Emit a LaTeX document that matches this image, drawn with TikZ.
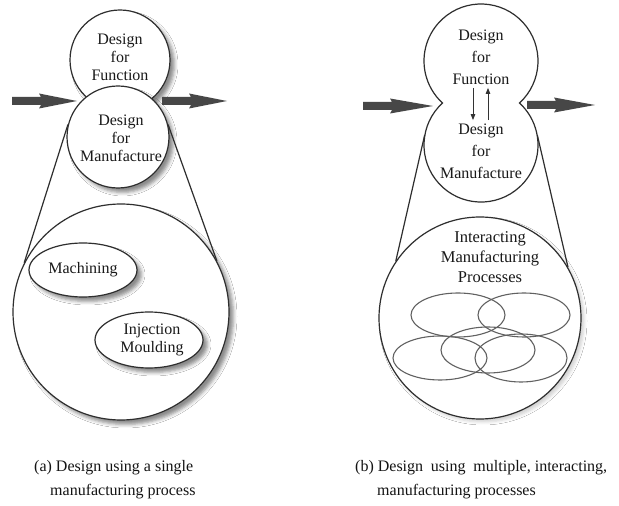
\documentclass[tikz,border=0pt]{standalone}
\usepackage{fontspec}
\setmainfont{Liberation Serif}
\usetikzlibrary{shapes.geometric,shadows.blur,arrows.meta}

\tikzset{
  ink/.style={draw=black!82, line width=1.2pt},
  outline/.style={ink, fill=white},
  softshadow/.style={blur shadow={shadow xshift=4.5pt, shadow yshift=-4.5pt,
      shadow blur radius=3.5pt, shadow opacity=45}},
  faintshadow/.style={blur shadow={shadow xshift=3pt, shadow yshift=-3pt,
      shadow blur radius=3pt, shadow opacity=18}},
  disc/.style={circle, inner sep=0pt, minimum size=#1},
  oval/.style 2 args={ellipse, inner sep=0pt, minimum width=#1, minimum height=#2},
  txt/.style={font=\fontsize{16}{18}\selectfont, align=center, text=black!90},
  txtwide/.style={font=\fontsize{16}{22}\selectfont, align=center, text=black!90},
  caption/.style={font=\fontsize{16}{18}\selectfont, anchor=base west, inner sep=0pt, text=black!92},
  ring/.style={ink, draw=black!62, line width=1.1pt},
  linkline/.style={ink},
  smallarrow/.style={draw=black!80, line width=0.9pt, -{Triangle[length=6pt,width=4.5pt]}},
  pics/blockarrow/.style={code={
      \fill[black!72] (0,-4) -- (29,-4) -- (27,-7.5) -- (#1,0) -- (27,7.5) -- (29,4) -- (0,4) -- cycle;}}
}

\begin{document}
\begin{tikzpicture}[x=1pt,y=1pt]
\useasboundingbox[fill=white] (0,0) rectangle (619,506);

% ---------- (a) single manufacturing process ----------
\node[disc=100pt, outline, softshadow] (fnA) at (120,446) {};
\node[disc=102pt, outline, softshadow] (mfA) at (118,369) {};
\node[txt] (tfnA) at (120,449) {Design\\for\\Function};
\node[txt] (tmfA) at (121,368) {Design\\for\\Manufacture};

\pic at (12,405) {blockarrow=65};
\pic at (162,405) {blockarrow=65};

\node[disc=216pt, outline, softshadow] (procA) at (121,194) {};
\draw[linkline] (mfA.166) -- (procA.153);
\draw[linkline] (mfA.14) -- (procA.28);

\node[oval={108pt}{54pt}, outline, softshadow, txt] (machA) at (83,236) {Machining};
\node[oval={108pt}{56pt}, outline, softshadow, txt, text width=70pt] (injA) at (149,166)
  {\hspace*{6pt}Injection\\\hspace*{6pt}Moulding};

% ---------- (b) multiple interacting processes ----------
\node[disc=114pt] (fnB) at (481,445) {};
\node[disc=114pt] (mfB) at (481,361) {};
\draw[outline] ([shift={(-47.5:57)}]fnB.center)
  arc[start angle=-47.5, end angle=227.5, radius=57]
  arc[start angle=132.5, end angle=407.5, radius=57] -- cycle;
\node[txtwide] (tfnB) at (481,449) {Design\\for\\Function};
\node[txtwide] (tmfB) at (481,355) {Design\\for\\Manufacture};
\draw[smallarrow] ([xshift=-8pt]tfnB.south) -- ([xshift=-8pt]tmfB.north);
\draw[smallarrow] ([xshift=7pt]tmfB.north) -- ([xshift=7pt]tfnB.south);

\pic at (363,400) {blockarrow=70};
\pic at (527,401) {blockarrow=68};

\node[disc=202pt, outline, faintshadow] (procB) at (480,188) {};
\draw[linkline] (mfB.170) -- (procB.146.6);
\draw[linkline] (mfB.10) -- (procB.30);

\node[txt, font=\fontsize{16.5}{20}\selectfont] (tprocB) at (490,249)
  {Interacting\\Manufacturing\\Processes};

\node[oval={94pt}{44pt}, ring] (p1) at (458,191) {};
\node[oval={92pt}{44pt}, ring] (p2) at (524,191) {};
\node[oval={94pt}{44pt}, ring] (p3) at (440,148) {};
\node[oval={94pt}{46pt}, ring] (p4) at (488,156) {};
\node[oval={92pt}{48pt}, ring] (p5) at (521,148) {};

% ---------- captions ----------
\node[caption] (capA1) at (34,34) {(a) Design using a single};
\node[caption] (capA2) at (50,10) {manufacturing process};
\node[caption] (capB1) at (355,34)
  {\makebox[252pt][s]{(b) Design\hspace{3.5pt plus 1fill} using\hspace{3.5pt plus 1fill} multiple, interacting,}};
\node[caption] (capB2) at (377,10) {manufacturing processes};
\end{tikzpicture}
\end{document}
